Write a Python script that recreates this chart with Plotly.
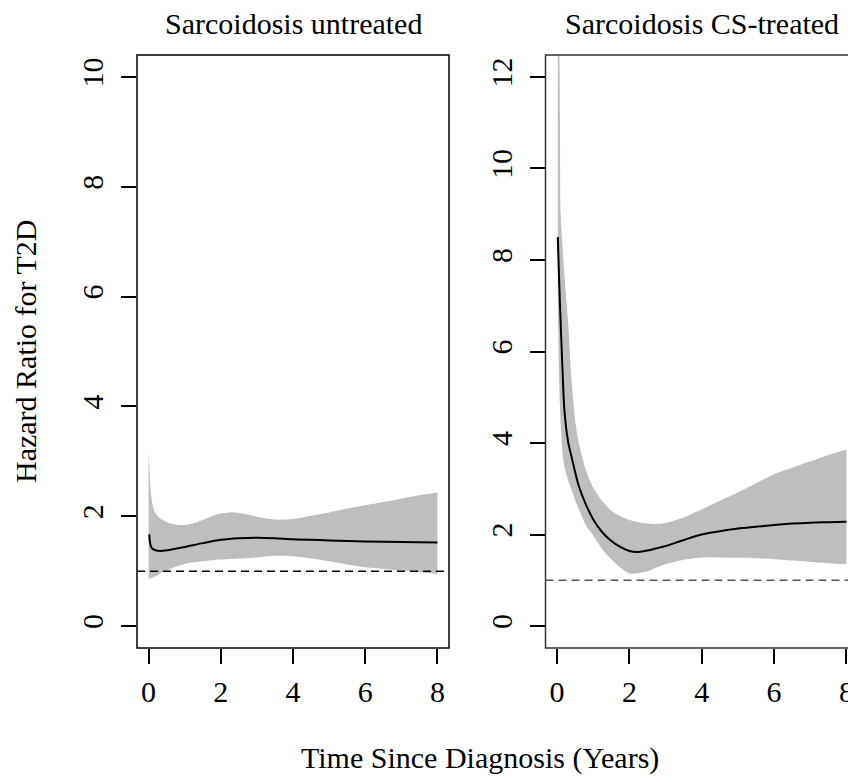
import plotly.graph_objects as go

# ---------------- data ----------------
# Left panel: Sarcoidosis untreated
left_band_t = [0.0, 0.02, 0.06, 0.1, 0.15, 0.2, 0.3, 0.5, 0.75, 1.0, 1.25, 1.5, 1.75, 2.0,
               2.25, 2.5, 2.75, 3.0, 3.5, 4.0, 4.5, 5.0, 5.5, 6.0, 6.5, 7.0, 7.5, 8.0]
left_upper = [3.19, 2.95, 2.45, 2.25, 2.12, 2.05, 1.97, 1.89, 1.85, 1.84, 1.87, 1.93, 2.0, 2.05,
              2.07, 2.06, 2.03, 1.99, 1.94, 1.95, 2.01, 2.07, 2.14, 2.2, 2.26, 2.32, 2.38, 2.43]
left_lower = [0.85, 0.86, 0.87, 0.88, 0.89, 0.91, 0.95, 1.01, 1.08, 1.13, 1.16, 1.18, 1.2, 1.21,
              1.22, 1.23, 1.24, 1.25, 1.28, 1.27, 1.23, 1.18, 1.12, 1.07, 1.04, 1.01, 0.98, 0.95]
left_fit_t = [0.02, 0.04, 0.08, 0.15, 0.25, 0.4, 0.6, 1.0, 1.5, 2.0, 2.5, 3.0, 3.5, 4.0,
              5.0, 6.0, 7.0, 8.0]
left_fit = [1.67, 1.52, 1.43, 1.39, 1.37, 1.37, 1.39, 1.44, 1.51, 1.57, 1.6, 1.61, 1.6, 1.58,
            1.56, 1.54, 1.53, 1.52]

# Right panel: Sarcoidosis CS-treated
right_band_t = [0.02, 0.05, 0.08, 0.1, 0.15, 0.2, 0.3, 0.4, 0.5, 0.6, 0.8, 1.0, 1.25, 1.5, 1.75,
                2.0, 2.25, 2.5, 2.75, 3.0, 3.5, 4.0, 4.5, 5.0, 5.5, 6.0, 6.5, 7.0, 7.5, 8.0]
right_upper = [20, 14.5, 11.0, 9.0, 8.3, 7.7, 6.7, 5.4, 4.5, 4.0, 3.4, 3.02, 2.73, 2.52, 2.4,
               2.32, 2.27, 2.24, 2.23, 2.25, 2.37, 2.55, 2.74, 2.92, 3.12, 3.32, 3.46, 3.6, 3.74, 3.86]
right_lower = [7.0, 5.6, 4.8, 4.4, 3.8, 3.5, 3.2, 2.98, 2.75, 2.55, 2.2, 1.98, 1.68, 1.46, 1.28,
               1.15, 1.16, 1.2, 1.28, 1.35, 1.45, 1.5, 1.5, 1.49, 1.48, 1.46, 1.43, 1.4, 1.37, 1.35]
right_fit_t = [0.02, 0.06, 0.1, 0.15, 0.2, 0.3, 0.4, 0.6, 0.8, 1.0, 1.25, 1.5, 1.75, 2.0, 2.25,
               2.5, 2.75, 3.0, 3.5, 4.0, 4.5, 5.0, 5.5, 6.0, 6.5, 7.0, 7.5, 8.0]
right_fit = [8.5, 7.5, 6.6, 5.6, 4.75, 4.05, 3.7, 3.06, 2.65, 2.33, 2.05, 1.86, 1.73, 1.64, 1.62,
             1.65, 1.7, 1.75, 1.88, 2.0, 2.07, 2.13, 2.17, 2.21, 2.24, 2.26, 2.27, 2.28]

panel_titles = ["Sarcoidosis untreated", "Sarcoidosis CS-treated"]
x_ticks = [0, 2, 4, 6, 8]
left_y_ticks = [0, 2, 4, 6, 8, 10]
right_y_ticks = [0, 2, 4, 6, 8, 10, 12]
ref_value = 1
x_title = "Time Since Diagnosis (Years)"
y_title = "Hazard Ratio for T2D"

# ---------------- figure ----------------
W, H = 856, 778
OFF = 8  # page body margin offset
FONT = "Liberation Serif, Times New Roman, serif"
FS = 30
GREY = "#BEBEBE"


def px(x):
    return (x - OFF) / W


def py(y):
    return 1 - (y - OFF) / H


fig = go.Figure()


def add_panel(band_t, lower, upper, fit_t, fit, xa, ya):
    fig.add_trace(go.Scatter(x=band_t, y=lower, mode="lines",
                             line=dict(width=0, shape="spline", smoothing=0.8),
                             hoverinfo="skip", showlegend=False, xaxis=xa, yaxis=ya))
    fig.add_trace(go.Scatter(x=band_t, y=upper, mode="lines", fill="tonexty", fillcolor=GREY,
                             line=dict(width=0, shape="spline", smoothing=0.8),
                             hoverinfo="skip", showlegend=False, xaxis=xa, yaxis=ya))
    fig.add_trace(go.Scatter(x=fit_t, y=fit, mode="lines",
                             line=dict(color="black", width=2, shape="spline", smoothing=0.8),
                             showlegend=False, xaxis=xa, yaxis=ya))


add_panel(left_band_t, left_lower, left_upper, left_fit_t, left_fit, "x", "y")
add_panel(right_band_t, right_lower, right_upper, right_fit_t, right_fit, "x2", "y2")

ydom = [py(648), py(55)]
axis_common = dict(showgrid=False, zeroline=False, showline=False, ticks="outside", ticklen=15,
                   tickwidth=1.5, tickcolor="black",
                   tickfont=dict(family=FONT, size=FS, color="black"))

fig.update_layout(
    width=W, height=H, margin=dict(l=0, r=0, t=0, b=0),
    paper_bgcolor="white", plot_bgcolor="white",
    xaxis=dict(domain=[px(137), px(449)], range=[-0.32, 8.32], tickvals=x_ticks, anchor="y",
               ticklabelstandoff=2, **axis_common),
    yaxis=dict(domain=ydom, range=[-0.4, 10.4], tickvals=left_y_ticks, tickangle=-90, anchor="x",
               ticklabelstandoff=6, **axis_common),
    xaxis2=dict(domain=[px(545.5), min(1.0, px(858))], range=[-0.32, 8.32], tickvals=x_ticks,
                anchor="y2", ticklabelstandoff=2, **axis_common),
    yaxis2=dict(domain=ydom, range=[-0.48, 12.48], tickvals=right_y_ticks, tickangle=-90,
                anchor="x2", ticklabelstandoff=6, **axis_common),
)

shapes = []
# panel boxes
shapes.append(dict(type="rect", xref="x domain", yref="y domain", x0=0, x1=1, y0=0, y1=1,
                   line=dict(color="black", width=1.5), layer="above"))
shapes.append(dict(type="rect", xref="x2 domain", yref="y2 domain", x0=0, x1=1.1, y0=0, y1=1,
                   line=dict(color="#333333", width=1.5), layer="above"))
# reference lines
shapes.append(dict(type="line", xref="x domain", yref="y", x0=0, x1=1, y0=ref_value, y1=ref_value,
                   line=dict(color="black", width=1.5, dash="8px,5px")))
shapes.append(dict(type="line", xref="x2 domain", yref="y2", x0=0, x1=1, y0=ref_value, y1=ref_value,
                   line=dict(color="#555555", width=1.5, dash="8px,5px")))
fig.update_layout(shapes=shapes)

ann_font = dict(family=FONT, size=FS, color="black")
annotations = [
    dict(text=panel_titles[0], x=px(293), y=py(23), xref="paper", yref="paper",
         xanchor="center", yanchor="middle", showarrow=False, font=ann_font),
    dict(text=panel_titles[1], x=px(702), y=py(23), xref="paper", yref="paper",
         xanchor="center", yanchor="middle", showarrow=False, font=ann_font),
    dict(text=x_title, x=px(480), y=py(758), xref="paper", yref="paper",
         xanchor="center", yanchor="middle", showarrow=False, font=ann_font),
    dict(text=y_title, x=px(25), y=py(351), xref="paper", yref="paper", textangle=-90,
         xanchor="center", yanchor="middle", showarrow=False, font=ann_font),
]
fig.update_layout(annotations=annotations)

fig.write_html("out.html")
